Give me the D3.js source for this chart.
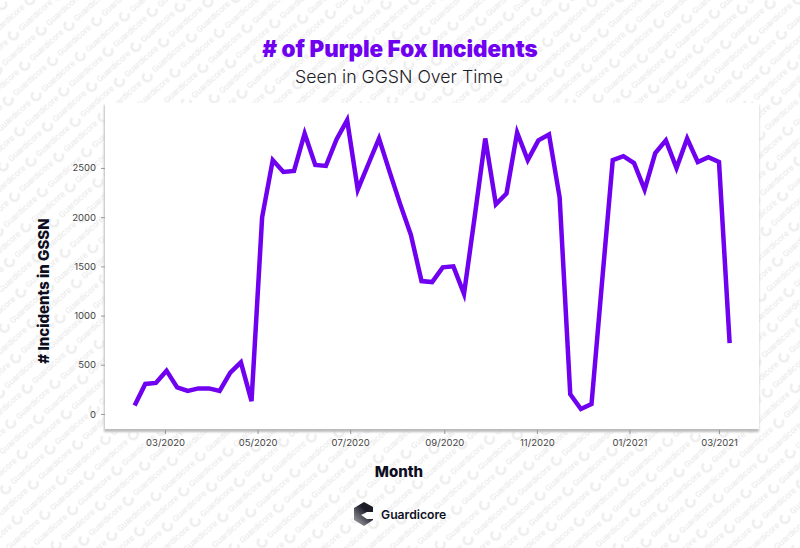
<!DOCTYPE html>
<html>
<head>
<meta charset="utf-8">
<script src="https://cdn.jsdelivr.net/npm/d3@7"></script>
<style>
html,body{margin:0;padding:0;background:#fff;}
svg{display:block;}
text{font-family:Inter,"Noto Sans",sans-serif;}
</style>
</head>
<body>
<div id="chart"></div>
<script>
// weekly counts
var firstWeek = "2020-02-10";
var incidents = [85,305,315,440,270,235,260,260,235,420,525,130,2000,2580,2460,2470,2850,2530,2520,2790,2985,
  2280,2540,2800,2460,2130,1820,1350,1340,1490,1500,1220,2000,2800,2130,2240,2860,2580,2780,2840,2200,
  200,50,100,1350,2580,2620,2550,2280,2650,2780,2500,2800,2560,2610,2560,720];
var yTicks = [0,500,1000,1500,2000,2500];
var xTickDates = ["2020-03-01","2020-05-01","2020-07-01","2020-09-01","2020-11-01","2021-01-01","2021-03-01"];

var width = 800, height = 548;
var parse = d3.utcParse("%Y-%m-%d");
var start = parse(firstWeek);
var data = incidents.map(function(v, i) {
	return {date: d3.utcDay.offset(start, i * 7), value: v};
});

var svg = d3.select("#chart").append("svg")
	.attr("width", width)
	.attr("height", height);

var defs = svg.append("defs");

// panel shadow
var blur = defs.append("filter").attr("id", "shadow")
	.attr("x", "-5%").attr("y", "-5%").attr("width", "110%").attr("height", "110%");
blur.append("feGaussianBlur").attr("stdDeviation", 1);
var soft = defs.append("filter").attr("id", "soft");
soft.append("feGaussianBlur").attr("stdDeviation", 0.35);

// repeated logo + name behind the chart, 5 rows shifted by 0.4 of a cell each
var cellW = 59.5, rowH = 15.1;
var pattern = defs.append("pattern").attr("id", "mark")
	.attr("patternUnits", "userSpaceOnUse")
	.attr("width", cellW).attr("height", rowH * 5)
	.attr("patternTransform", "translate(8,29) rotate(-42)");
d3.range(5).forEach(function(r) {
	[-1, 0, 1].forEach(function(c) {
		var off = ((r * 0.4) % 1 + c) * cellW;
		var g = pattern.append("g").attr("transform", "translate(" + off + "," + (r * rowH + 8) + ")");
		g.append("path")
			.attr("transform", "rotate(42)")
			.attr("d", d3.arc()({innerRadius: 3, outerRadius: 5.6, startAngle: 0.9, endAngle: 5.6}))
			.attr("fill", "#eeeeee");
		g.append("text")
			.attr("x", 8.5).attr("y", 2.8)
			.attr("font-size", 8).attr("font-weight", 500)
			.attr("fill", "#e8e8e8")
			.text("Guardicore");
	});
});

svg.append("rect").attr("width", width).attr("height", height).attr("fill", "#fff");
svg.append("rect").attr("width", width).attr("height", height).attr("fill", "url(#mark)").attr("filter", "url(#soft)");

var plotLeft = 105, plotRight = 759, plotTop = 103, plotBottom = 430;

svg.append("rect")
	.attr("x", plotLeft - 1).attr("y", plotTop + 2)
	.attr("width", plotRight - plotLeft + 1).attr("height", plotBottom - plotTop)
	.attr("fill", "#bcbcbc")
	.attr("filter", "url(#shadow)");
svg.append("rect")
	.attr("x", plotLeft).attr("y", plotTop)
	.attr("width", plotRight - plotLeft).attr("height", plotBottom - plotTop - 1)
	.attr("fill", "#fff");

var x = d3.scaleUtc()
	.domain([parse("2020-03-01"), parse("2021-03-01")])
	.range([165, 719]);
var y = d3.scaleLinear()
	.domain([-163, 3160])
	.range([plotBottom, plotTop]);

var xAxis = d3.axisBottom(x)
	.tickValues(xTickDates.map(parse))
	.tickFormat(d3.utcFormat("%m/%Y"))
	.tickSize(4)
	.tickPadding(5);
var yAxis = d3.axisLeft(y)
	.tickValues(yTicks)
	.tickFormat(d3.format("d"))
	.tickSize(4)
	.tickPadding(5);

var gx = svg.append("g").attr("transform", "translate(0," + plotBottom + ")").call(xAxis);
var gy = svg.append("g").attr("transform", "translate(" + plotLeft + ",0)").call(yAxis);
gx.select(".domain").remove();
gy.select(".domain").remove();
svg.selectAll(".tick line").attr("stroke", "#999");
svg.selectAll(".tick text")
	.attr("fill", "#444")
	.style("font-family", "Inter")
	.style("font-size", "9.5px");

var line = d3.line()
	.x(function(d) { return x(d.date); })
	.y(function(d) { return y(d.value); });

svg.append("path")
	.datum(data)
	.attr("fill", "none")
	.attr("stroke", "#7000f0")
	.attr("stroke-width", 4.5)
	.attr("stroke-linejoin", "miter")
	.attr("d", line);

// titles
svg.append("text")
	.attr("x", 400).attr("y", 57)
	.attr("text-anchor", "middle")
	.attr("font-size", 22.4).attr("font-weight", 900)
	.attr("fill", "#7000f0")
	.text("# of Purple Fox Incidents");
svg.append("text")
	.attr("x", 399).attr("y", 83)
	.attr("text-anchor", "middle")
	.attr("font-size", 17.7).attr("font-weight", 300)
	.attr("fill", "#1c1c28")
	.text("Seen in GGSN Over Time");
svg.append("text")
	.attr("x", 399).attr("y", 477)
	.attr("text-anchor", "middle")
	.attr("font-size", 15).attr("font-weight", 800)
	.attr("fill", "#0e0e22")
	.text("Month");
svg.append("text")
	.attr("transform", "translate(49,291) rotate(-90)")
	.attr("text-anchor", "middle")
	.attr("font-size", 15).attr("font-weight", 800)
	.attr("fill", "#0e0e22")
	.text("# Incidents in GSSN");

// logo
var logoFill = defs.append("linearGradient").attr("id", "logoFill")
	.attr("x1", 0.9).attr("y1", 0).attr("x2", 0.1).attr("y2", 1);
logoFill.append("stop").attr("offset", 0.35).attr("stop-color", "#1c1c28");
logoFill.append("stop").attr("offset", 1).attr("stop-color", "#a8a8ae");
var logo = svg.append("g").attr("transform", "translate(364,514)");
logo.append("path")
	.attr("d", "M-10,-6 L0,-12 L9,-7 L9,-2 L3,-2 L-3,1 L3,5 L9,5 L9,6 L0,12 L-10,6Z")
	.attr("fill", "url(#logoFill)");
svg.append("text")
	.attr("x", 381).attr("y", 519)
	.attr("font-size", 12.2).attr("font-weight", 600)
	.attr("fill", "#10101e")
	.text("Guardicore");
</script>
</body>
</html>
